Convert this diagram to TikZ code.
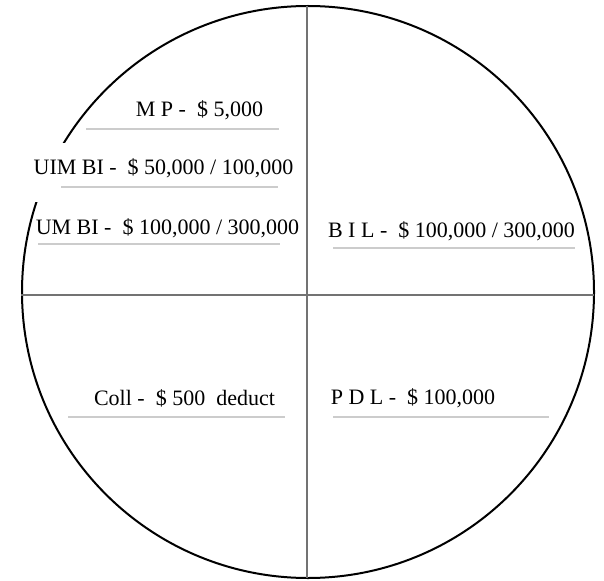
\documentclass[tikz,border=0pt]{standalone}
\usepackage{fontspec}
\setmainfont{Liberation Serif}
\usepackage{tikz}
\usetikzlibrary{positioning}

\tikzset{
  coverage/.style={font=\fontsize{22}{25}\selectfont, inner sep=0pt},
  uline/.style={draw=black!20, line width=1.5pt},
  axis/.style={draw=black!55, line width=2.5pt}
}

\begin{document}
\begin{tikzpicture}[x=1pt, y=-1pt, line width=2pt]
            \useasboundingbox (0,0) rectangle (604,580);

            % Circle and cross
            \draw (308,292) circle[radius=286pt];
            \draw[axis] (307,6) -- (307,578);
            \draw[axis] (21,295) -- (594,295);

            % Left top
            \node[coverage] (mp) at (199.5,110) {M P -~~\$ 5,000};
            \node[coverage, fill=white, inner xsep=4pt, minimum height=59pt, text depth=11pt] (uim) at (163.5,172.5) {UIM BI -~~\$ 50,000 / 100,000};
            \node[coverage] (um) at (167.5,228) {UM BI -~~\$ 100,000 / 300,000};
            \draw[uline] (86,129) -- (279,129);
            \draw[uline] (61,187) -- (278,187);
            \draw[uline] (38,244) -- (280,244);

            % Right top
            \node[coverage] (bil) at (451.5,231) {B I L -~~\$ 100,000 / 300,000};
            \draw[uline] (333,248) -- (575,248);

            % Bottom
            \node[coverage] (coll) at (184.5,398) {Coll -~~\$ 500~~deduct};
            \node[coverage] (pdl) at (413,398) {P D L -~~\$ 100,000};
            \draw[uline] (68,417) -- (285,417);
            \draw[uline] (333,417) -- (549,417);
        \end{tikzpicture}
\end{document}
